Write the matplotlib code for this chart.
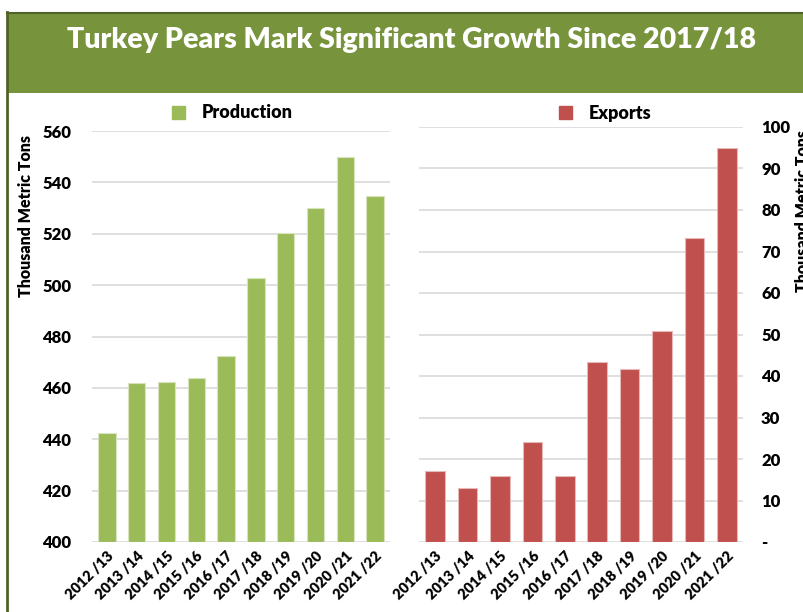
import matplotlib
matplotlib.use("Agg")
import matplotlib.pyplot as plt
from matplotlib.patches import Rectangle
from matplotlib.lines import Line2D
import numpy as np

title = "Turkey Pears Mark Significant Growth Since 2017/18"
years = ["2012/13", "2013/14", "2014/15", "2015/16", "2016/17",
         "2017/18", "2018/19", "2019/20", "2020/21", "2021/22"]
production = [442.3, 461.8, 462.4, 463.8, 472.4, 502.9, 520.3, 530.0, 550.0, 534.8]
exports = [17.2, 12.9, 15.9, 24.1, 15.9, 43.4, 41.7, 50.8, 73.2, 95.0]
prod_ticks = [400, 420, 440, 460, 480, 500, 520, 540, 560]
exp_ticks = [0, 10, 20, 30, 40, 50, 60, 70, 80, 90, 100]
exp_ticklabels = ["-", "10", "20", "30", "40", "50", "60", "70", "80", "90", "100"]
ylabel = "Thousand Metric Tons"

FONT = "Lato"
W, H = 804, 612
fig = plt.figure(figsize=(W / 100, H / 100), dpi=100)
fig.patch.set_facecolor("white")

def fx(px):
    return px / W

def fy(py):
    return 1 - py / H

# Banner
banner_col = "#77933C"
border_col = "#4F6228"
fig.patches.append(Rectangle((fx(7), fy(93)), fx(W - 7), fy(12) - fy(93),
                             transform=fig.transFigure, facecolor=banner_col,
                             edgecolor="none", zorder=0))
fig.lines.append(Line2D([fx(7), fx(W)], [fy(12.5), fy(12.5)], transform=fig.transFigure,
                        color=border_col, lw=1.5))
fig.lines.append(Line2D([fx(7.5), fx(7.5)], [fy(12), 0], transform=fig.transFigure,
                        color=border_col, lw=2))
fig.text(fx(412), fy(40), title, color="white", fontsize=20.5, fontweight="heavy",
         family=FONT, ha="center", va="center")

grid_col = "#D9D9D9"
green = "#9BBB59"
red = "#C0504D"

def style(ax):
    for s in ax.spines.values():
        s.set_visible(False)
    ax.grid(axis="y", color=grid_col, lw=1.2)
    ax.set_axisbelow(True)
    ax.tick_params(axis="both", length=0)
    ax.tick_params(axis="x", pad=5)

TICK_FS = 12
XT_FS = 10.5

# Left: production
ax1 = fig.add_axes([fx(92), fy(542), fx(390 - 92), fy(131) - fy(542)])
x = np.arange(len(years))
ax1.bar(x, [p - 400 for p in production], bottom=400, width=0.58, color=green,
        edgecolor="#D7E4BD", linewidth=0.8)
ax1.set_ylim(400, 560)
ax1.set_xlim(-0.5, len(years) - 0.5)
ax1.set_yticks(prod_ticks)
ax1.set_yticklabels([str(t) for t in prod_ticks], fontsize=TICK_FS, fontweight="heavy", family=FONT)
ax1.tick_params(axis="y", pad=15)
ax1.set_xticks(x)
ax1.set_xticklabels([y.replace("/", " /") for y in years], rotation=45, ha="right",
                    rotation_mode="anchor", fontsize=XT_FS, fontweight="heavy", family=FONT)
style(ax1)
fig.text(fx(26), fy(216), ylabel, rotation=90, fontsize=11.5, fontweight="heavy",
         family=FONT, ha="center", va="center")
ax1.legend([Rectangle((0, 0), 1, 1, color=green)], ["Production"], loc="center",
           bbox_to_anchor=(fx(232), fy(113)), bbox_transform=fig.transFigure,
           frameon=False, prop={"family": FONT, "weight": "heavy", "size": 13},
           handlelength=0.75, handleheight=0.75, handletextpad=0.9, borderaxespad=0)

# Right: exports
ax2 = fig.add_axes([fx(419), fy(542), fx(743 - 419), fy(127) - fy(542)])
ax2.bar(x, exports, width=0.6, color=red, edgecolor="#E6B9B8", linewidth=0.8)
ax2.set_ylim(0, 100)
ax2.set_xlim(-0.5, len(years) - 0.5)
ax2.yaxis.tick_right()
ax2.set_yticks(exp_ticks)
ax2.set_yticklabels(exp_ticklabels, fontsize=TICK_FS, fontweight="heavy", family=FONT)
ax2.tick_params(axis="y", pad=13)
ax2.set_xticks(x)
ax2.set_xticklabels([y.replace("/", " /") for y in years], rotation=45, ha="right",
                    rotation_mode="anchor", fontsize=XT_FS, fontweight="heavy", family=FONT)
style(ax2)
fig.text(fx(803), fy(130), ylabel, rotation=90, fontsize=11.5, fontweight="heavy",
         family=FONT, ha="center", va="top")
ax2.legend([Rectangle((0, 0), 1, 1, color=red)], ["Exports"], loc="center",
           bbox_to_anchor=(fx(605), fy(113)), bbox_transform=fig.transFigure,
           frameon=False, prop={"family": FONT, "weight": "heavy", "size": 13},
           handlelength=0.75, handleheight=0.75, handletextpad=0.9, borderaxespad=0)

fig.savefig("out.png", dpi=100)
